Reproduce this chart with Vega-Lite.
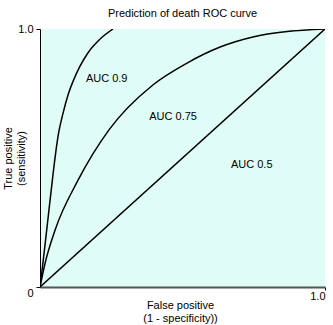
{
  "$schema": "https://vega.github.io/schema/vega-lite/v6.json",
  "width": 285,
  "height": 258,
  "autosize": {"type": "none"},
  "padding": {"left": 40, "top": 29, "right": 8, "bottom": 38},
  "background": "white",
  "title": {"text": "Prediction of death ROC curve", "font": "Liberation Sans", "fontSize": 11, "fontWeight": "normal", "color": "black", "anchor": "middle", "offset": 4},
  "config": {
    "view": {"fill": "#e0fcf7", "stroke": null},
    "font": "Liberation Sans"
  },
  "datasets": {
    "curves": [
      {"series": "AUC 0.5", "fpr": 0, "tpr": 0},
      {"series": "AUC 0.5", "fpr": 1, "tpr": 1},
      {"series": "AUC 0.75", "fpr": 0, "tpr": 0},
      {"series": "AUC 0.75", "fpr": 0.018, "tpr": 0.093},
      {"series": "AUC 0.75", "fpr": 0.053, "tpr": 0.221},
      {"series": "AUC 0.75", "fpr": 0.134, "tpr": 0.415},
      {"series": "AUC 0.75", "fpr": 0.242, "tpr": 0.609},
      {"series": "AUC 0.75", "fpr": 0.396, "tpr": 0.783},
      {"series": "AUC 0.75", "fpr": 0.516, "tpr": 0.868},
      {"series": "AUC 0.75", "fpr": 0.632, "tpr": 0.93},
      {"series": "AUC 0.75", "fpr": 0.747, "tpr": 0.969},
      {"series": "AUC 0.75", "fpr": 0.867, "tpr": 0.99},
      {"series": "AUC 0.75", "fpr": 1, "tpr": 1},
      {"series": "AUC 0.9", "fpr": 0, "tpr": 0},
      {"series": "AUC 0.9", "fpr": 0.012, "tpr": 0.11},
      {"series": "AUC 0.9", "fpr": 0.026, "tpr": 0.245},
      {"series": "AUC 0.9", "fpr": 0.045, "tpr": 0.43},
      {"series": "AUC 0.9", "fpr": 0.055, "tpr": 0.52},
      {"series": "AUC 0.9", "fpr": 0.065, "tpr": 0.595},
      {"series": "AUC 0.9", "fpr": 0.08, "tpr": 0.67},
      {"series": "AUC 0.9", "fpr": 0.1, "tpr": 0.75},
      {"series": "AUC 0.9", "fpr": 0.117, "tpr": 0.8},
      {"series": "AUC 0.9", "fpr": 0.14, "tpr": 0.855},
      {"series": "AUC 0.9", "fpr": 0.168, "tpr": 0.907},
      {"series": "AUC 0.9", "fpr": 0.21, "tpr": 0.96},
      {"series": "AUC 0.9", "fpr": 0.256, "tpr": 1.0}
    ],
    "labels": [
      {"label": "AUC 0.9", "fpr": 0.234, "tpr": 0.805},
      {"label": "AUC 0.75", "fpr": 0.467, "tpr": 0.659},
      {"label": "AUC 0.5", "fpr": 0.743, "tpr": 0.473}
    ]
  },
  "layer": [
    {
      "data": {"name": "curves"},
      "mark": {"type": "line", "color": "black", "strokeWidth": 1.5, "interpolate": "monotone", "clip": true},
      "encoding": {
        "x": {
          "field": "fpr", "type": "quantitative",
          "scale": {"domain": [0, 1], "nice": false, "zero": false},
          "axis": {
            "values": [1], "labelExpr": "'1.0'", "grid": false,
            "domainColor": "#555555", "domainWidth": 2,
            "tickColor": "black", "tickSize": 3, "labelPadding": 0,
            "labelFont": "Liberation Sans", "labelFontSize": 11, "labelColor": "black",
            "title": ["False positive", "(1 - specificity))"],
            "titleFont": "Liberation Sans", "titleFontSize": 11, "titleFontWeight": "normal", "titleColor": "black",
            "titleX": 140, "titleY": 12, "titleBaseline": "top", "titleLineHeight": 13
          }
        },
        "y": {
          "field": "tpr", "type": "quantitative",
          "scale": {"domain": [0, 1], "nice": false, "zero": false},
          "axis": {
            "values": [0, 1], "labelExpr": "datum.value == 0 ? '0' : '1.0'", "grid": false,
            "domainColor": "black", "domainWidth": 1,
            "tickColor": "black", "tickSize": 4, "labelPadding": 3,
            "labelBaseline": {"condition": {"test": "datum.value == 0", "value": "top"}, "value": "middle"},
            "labelFont": "Liberation Sans", "labelFontSize": 11, "labelColor": "black",
            "title": ["True positive", "(sensitivity)"],
            "titleFont": "Liberation Sans", "titleFontSize": 11, "titleFontWeight": "normal", "titleColor": "black",
            "titleX": -38, "titleBaseline": "top", "titleLineHeight": 13
          }
        },
        "detail": {"field": "series"}
      }
    },
    {
      "data": {"name": "labels"},
      "mark": {"type": "text", "font": "Liberation Sans", "fontSize": 11, "color": "black"},
      "encoding": {
        "x": {"field": "fpr", "type": "quantitative"},
        "y": {"field": "tpr", "type": "quantitative"},
        "text": {"field": "label"}
      }
    }
  ]
}
